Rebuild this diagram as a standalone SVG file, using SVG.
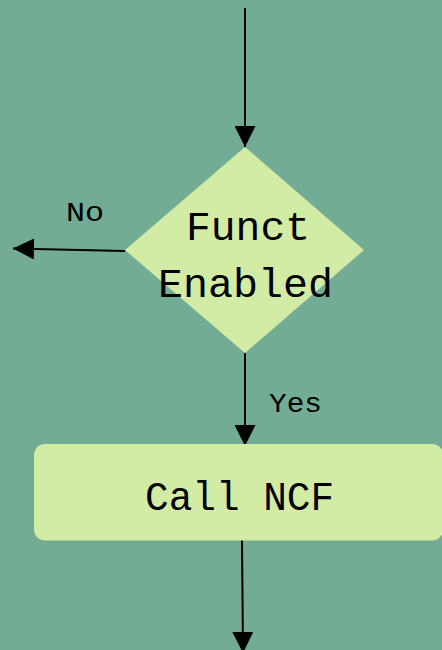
<svg xmlns="http://www.w3.org/2000/svg" width="442" height="650" viewBox="0 0 442 650">
<style>
.bg{fill:#72ac94}
.node{fill:#d2eca6}
.edge{stroke:#000;stroke-width:2;fill:none}
.t{font-family:"Liberation Mono","DejaVu Sans Mono",monospace;fill:#000}
.big{font-size:40px}
.small{font-size:28px}
</style>
<defs>
<marker id="ah" viewBox="0 0 21 21" refX="21" refY="10.5" markerWidth="21" markerHeight="21" markerUnits="userSpaceOnUse" orient="auto">
<path d="M0,0 L21,10.5 L0,21 Z" fill="#000"/>
</marker>
</defs>
<rect class="bg" x="0" y="0" width="442" height="650"/>
<g id="connectors">
<line class="edge" x1="245" y1="8" x2="245" y2="147" marker-end="url(#ah)"/>
<line class="edge" x1="125" y1="251" x2="13" y2="248.5" marker-end="url(#ah)"/>
<line class="edge" x1="245" y1="353" x2="245" y2="446" marker-end="url(#ah)"/>
<line class="edge" x1="242" y1="540" x2="243" y2="653" marker-end="url(#ah)"/>
<text class="t small" x="66" y="220.5" textLength="38" lengthAdjust="spacingAndGlyphs">No</text>
<text class="t small" x="269" y="412" textLength="53" lengthAdjust="spacingAndGlyphs">Yes</text>
</g>
<g id="decision">
<polygon class="node" points="245,147 364,250 245,353 125,250"/>
<text class="t big" x="186" y="240" textLength="124" lengthAdjust="spacingAndGlyphs">Funct</text>
<text class="t big" x="158" y="297" textLength="175" lengthAdjust="spacingAndGlyphs">Enabled</text>
</g>
<g id="call-ncf">
<rect class="node" x="34" y="444" width="409" height="96.5" rx="11"/>
<text class="t big" x="145" y="510" textLength="189" lengthAdjust="spacingAndGlyphs">Call NCF</text>
</g>
</svg>
